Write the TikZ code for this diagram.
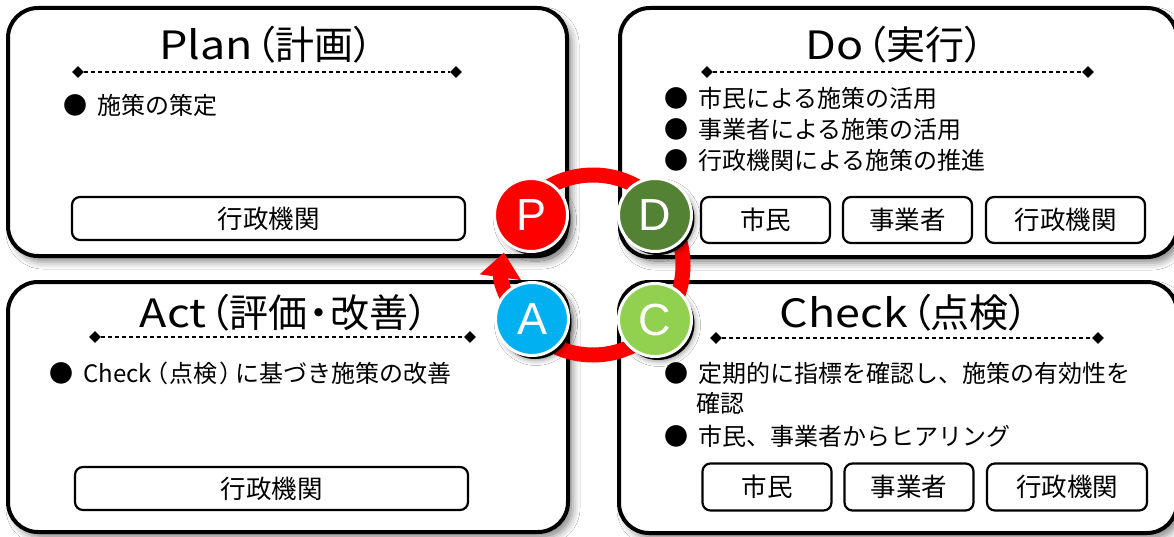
\documentclass[tikz,border=0pt]{standalone}
\usepackage{graphicx}
\usepackage{fontspec}
\setmainfont{Noto Sans CJK JP}
\newfontfamily\pfont{Noto Sans CJK JP}[RawFeature=+palt]
\newfontfamily\letterfont{Liberation Sans}
\usetikzlibrary{shadows,shadows.blur,arrows.meta,shapes.geometric}
\definecolor{pred}{RGB}{255,0,0}
\definecolor{dgreen}{RGB}{84,130,53}
\definecolor{lgreen}{RGB}{146,208,80}
\definecolor{ablue}{RGB}{0,176,240}
\newcommand\bulmark{●\hspace{0.42em}}
\newcommand\wlat[1]{\scalebox{1.15}[1]{#1}}
\begin{document}
\begin{tikzpicture}[x=1pt,y=-1pt,
  panel/.style={draw=black, line width=4pt, fill=white, rounded corners=30pt,
    inner sep=0pt, outer sep=0pt,
    blur shadow={shadow xshift=5pt, shadow yshift=-6pt, shadow blur radius=7pt, shadow opacity=45}},
  ttl/.style={inner sep=0pt, font=\pfont\fontsize{39}{41}\selectfont},
  bul/.style={inner sep=0pt, anchor=west, font=\fontsize{24}{26}\selectfont},
  tag/.style={draw=black, line width=2.2pt, rounded corners=8pt, fill=white, inner sep=0pt,
    font=\fontsize{25.5}{27}\selectfont},
  dia/.style={diamond, fill=black, inner sep=0pt, minimum size=12pt},
  dline/.style={line width=1.2pt, dash pattern=on 4pt off 3pt},
  phase/.style={circle, minimum size=73pt, inner sep=0pt, draw=white, line width=3pt,
    text=white, font=\letterfont\fontsize{45}{46}\selectfont,
    blur shadow={shadow xshift=4pt, shadow yshift=-5pt, shadow blur radius=5pt, shadow opacity=40},
    general shadow={fill=black, shadow xshift=3pt, shadow yshift=-3.5pt}},
  ringline/.style={draw=pred, line width=15pt}
]
\useasboundingbox (0,0) rectangle (1174,537);
\fill[white] (0,0) rectangle (1174,537);

% panels
\node[panel, minimum width=559pt, minimum height=248pt, anchor=north west] (plan) at (8,8) {};
\node[panel, minimum width=557pt, minimum height=249pt, anchor=north west] (do) at (620,8) {};
\node[panel, minimum width=560pt, minimum height=250pt, anchor=north west] (act) at (8,282) {};
\node[panel, minimum width=558pt, minimum height=251pt, anchor=north west] (check) at (619,282) {};

% titles
\node[ttl] (tplan) at (266,45) {\wlat{Plan}\hspace{0.08em}（計画）};
\node[ttl] (tdo) at (895,45) {\wlat{Do}\hspace{0.08em}（実行）};
\node[ttl] (tact) at (284,313) {\wlat{Act}\hspace{0.08em}（評価\hspace{0.05em}・\hspace{0.05em}改善）};
\node[ttl] (tcheck) at (904,313) {\wlat{Check}\hspace{0.08em}（点検）};

% dashed separators
\node[dia] (pa) at (78,72) {};
\node[dia] (pb) at (456,72) {};
\draw[dline] (pa) -- (pb);
\node[dia] (da) at (707,72) {};
\node[dia] (db) at (1088,72) {};
\draw[dline] (da) -- (db);
\node[dia] (aa) at (95,337) {};
\node[dia] (ab) at (470,337) {};
\draw[dline] (aa) -- (ab);
\node[dia] (ca) at (716,338) {};
\node[dia] (cb) at (1098,338) {};
\draw[dline] (ca) -- (cb);

% bullets
\node[bul] (b1) at (63,105) {\bulmark 施策の策定};
\node[bul] (b2) at (664,98) {\bulmark 市民による施策の活用};
\node[bul] (b3) at (664,129) {\bulmark 事業者による施策の活用};
\node[bul] (b4) at (664,160) {\bulmark 行政機関による施策の推進};
\node[bul] (b5) at (49,373) {\bulmark Check{\pfont\hspace{0.15em}（\hspace{0.1em}点検\hspace{0.1em}）\hspace{0.15em}}に基づき施策の改善};
\node[bul] (b6) at (664,373) {\bulmark 定期的に指標を確認し、施策の有効性を};
\node[bul] (b7) at (696,403) {確認};
\node[bul] (b8) at (664,436) {\bulmark 市民、事業者からヒアリング};

% tags
\node[tag, minimum width=393pt, minimum height=43pt] (g1) at (268.5,218.5) {行政機関};
\node[tag, minimum width=393pt, minimum height=43pt] (g2) at (271.5,488.5) {行政機関};
\node[tag, minimum width=129pt, minimum height=46pt] (g3) at (765.5,220) {市民};
\node[tag, minimum width=129pt, minimum height=46pt] (g4) at (907.5,220) {事業者};
\node[tag, minimum width=159pt, minimum height=46pt] (g5) at (1065.5,220) {行政機関};
\node[tag, minimum width=129pt, minimum height=47pt] (g6) at (767,487) {市民};
\node[tag, minimum width=129pt, minimum height=47pt] (g7) at (909,487) {事業者};
\node[tag, minimum width=160pt, minimum height=47pt] (g8) at (1067,487) {行政機関};

% cycle ring
\coordinate (rc) at (593,265);
\draw[ringline, -{Triangle[length=25pt,width=40pt]}]
  ([shift={(220:90)}]rc) arc[start angle=220, end angle=548, radius=90];

% phase circles
\node[phase, fill=pred] (P) at (531,215) {P};
\node[phase, fill=dgreen] (D) at (655,215) {D};
\node[phase, fill=ablue] (A) at (532,319) {A};
\node[phase, fill=lgreen] (C) at (655,320) {C};
\end{tikzpicture}
\end{document}
